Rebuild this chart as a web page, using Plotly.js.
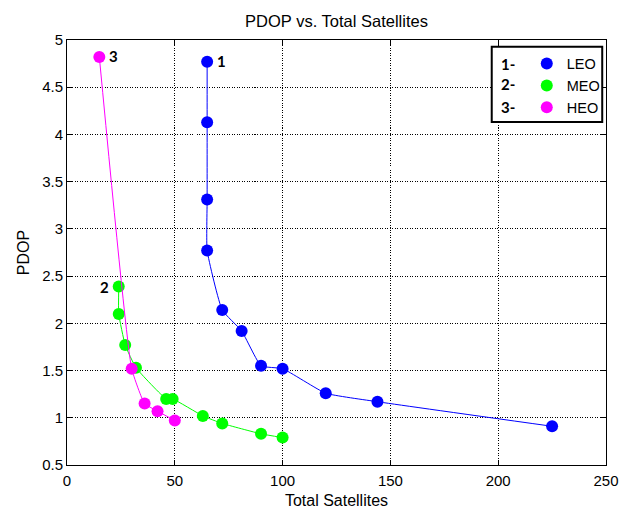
<!DOCTYPE html>
<html>
<head>
<meta charset="utf-8">
<script src="https://cdn.plot.ly/plotly-3.0.1.min.js"></script>
<style>html,body{margin:0;padding:0;background:#fff;}#chart{width:635px;height:509px;}</style>
</head>
<body>
<div id="chart"></div>
<script>
// Data
const leoSats = [65, 65, 65, 65, 72, 81, 90, 100, 120, 144, 225];
const leoPdop = [4.77, 4.13, 3.31, 2.77, 2.14, 1.92, 1.55, 1.52, 1.26, 1.17, 0.91];
const meoSats = [24, 24, 27, 32, 46, 49, 63, 72, 90, 100];
const meoPdop = [2.39, 2.10, 1.77, 1.53, 1.20, 1.20, 1.02, 0.94, 0.83, 0.79];
const heoSats = [15, 30, 36, 42, 50];
const heoPdop = [4.82, 1.52, 1.15, 1.07, 0.97];
const seriesNames = ['LEO', 'MEO', 'HEO'];
const seriesLabels = ['1', '2', '3'];
const legendPrefixes = ['1-', '2-', '3-'];
const colors = ['#0000ff', '#00ff00', '#ff00ff'];

const xs = [leoSats, meoSats, heoSats];
const ys = [leoPdop, meoPdop, heoPdop];

const traces = [];
xs.forEach((x, i) => {
  traces.push({
    x: x, y: ys[i], type: 'scatter', mode: 'lines+markers',
    line: {color: colors[i], width: 1, shape: 'spline', smoothing: 0.4},
    marker: {color: colors[i], size: 12},
    showlegend: false, hoverinfo: 'skip'
  });
});
// legend-only marker entries
seriesNames.forEach((n, i) => {
  traces.push({
    x: [null], y: [null], type: 'scatter', mode: 'markers', name: n,
    marker: {color: colors[i], size: 12}, showlegend: true
  });
});

const numFont = {family: 'Lato, "Noto Sans", sans-serif', size: 15, color: '#000', weight: 'bold'};
const annotations = [
  {x: leoSats[0], y: leoPdop[0], xref: 'x', yref: 'y', text: '<b>' + seriesLabels[0] + '</b>', showarrow: false, xshift: 14, yshift: 1, font: numFont},
  {x: meoSats[0], y: meoPdop[0], xref: 'x', yref: 'y', text: '<b>' + seriesLabels[1] + '</b>', showarrow: false, xshift: -14, yshift: 0, font: numFont},
  {x: heoSats[0], y: heoPdop[0], xref: 'x', yref: 'y', text: '<b>' + seriesLabels[2] + '</b>', showarrow: false, xshift: 14, yshift: 1, font: numFont}
];
const prefixY = [0.9435, 0.8953, 0.8424];
legendPrefixes.forEach((p, i) => {
  annotations.push({
    x: 0.819, y: prefixY[i], xref: 'paper', yref: 'paper', xanchor: 'center', yanchor: 'middle',
    text: '<b>' + p + '</b>', showarrow: false, font: numFont
  });
});

const txtFont = 'Liberation Sans, Arial, sans-serif';
const axisCommon = {
  showline: true, linecolor: '#000', linewidth: 1, mirror: 'ticks',
  ticks: 'inside', ticklen: 5, tickcolor: '#000',
  showgrid: true, gridcolor: '#000', griddash: '1px,1.5px', gridwidth: 1,
  zeroline: false,
  tickfont: {family: txtFont, size: 15, color: '#000'}
};

const layout = {
  width: 635, height: 509,
  paper_bgcolor: '#fff', plot_bgcolor: '#fff',
  margin: {l: 67, r: 29, t: 40, b: 44},
  title: {text: 'PDOP vs. Total Satellites', x: 0.5, xref: 'paper', xanchor: 'center', y: 0.958, yanchor: 'middle',
    font: {family: txtFont, size: 16.5, color: '#000'}},
  xaxis: Object.assign({}, axisCommon, {range: [0, 250], tickvals: [0, 50, 100, 150, 200, 250],
    ticklabelstandoff: 2,
    title: {text: 'Total Satellites', standoff: 6, font: {family: txtFont, size: 16, color: '#000'}}}),
  yaxis: Object.assign({}, axisCommon, {range: [0.5, 5], tickvals: [0.5, 1, 1.5, 2, 2.5, 3, 3.5, 4, 4.5, 5],
    ticktext: ['0.5', '1', '1.5', '2', '2.5', '3', '3.5', '4', '4.5', '5'],
    title: {text: 'PDOP', standoff: 8, font: {family: txtFont, size: 16, color: '#000'}}}),
  showlegend: true,
  legend: {x: 0.853, xanchor: 'left', y: 0.982, yanchor: 'top', bgcolor: 'rgba(0,0,0,0)', borderwidth: 0,
    font: {family: txtFont, size: 14.5, color: '#000'}, itemwidth: 30},
  shapes: [{type: 'rect', xref: 'paper', yref: 'paper', x0: 0.788, x1: 0.993, y0: 0.807, y1: 0.984,
    line: {color: '#000', width: 2}, fillcolor: '#fff', layer: 'above'}],
  annotations: annotations
};

Plotly.newPlot('chart', traces, layout, {displayModeBar: false, staticPlot: true});
</script>
</body>
</html>
